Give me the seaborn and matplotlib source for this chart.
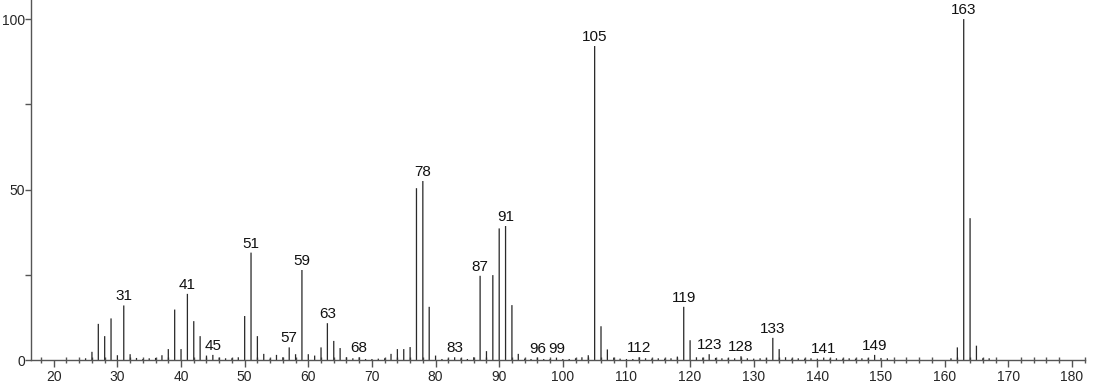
import matplotlib
matplotlib.use("Agg")
import matplotlib.pyplot as plt
import seaborn as sns
import pandas as pd
from matplotlib.ticker import MultipleLocator, FixedLocator

mz = list(range(25, 152)) + [161, 162, 163, 164, 165, 166, 167]
intensity = [
    0.5, 2.4, 10.6, 7.0, 12.2, 1.4, 16.0, 1.7, 0.6, 0.3,     # 25-34
    0.5, 0.6, 1.4, 3.2, 14.8, 3.2, 19.4, 11.4, 7.0, 1.3,     # 35-44
    1.5, 0.7, 0.5, 0.5, 0.8, 12.9, 31.5, 7.0, 1.8, 0.4,      # 45-54
    1.5, 0.8, 3.7, 1.7, 26.4, 1.7, 1.3, 3.7, 10.8, 5.6,      # 55-64
    3.5, 0.8, 0.5, 0.8, 0.3, 0.3, 0.4, 0.5, 1.8, 3.2,        # 65-74
    3.2, 3.8, 50.4, 52.5, 15.6, 1.3, 0.3, 0.4, 0.8, 0.5,     # 75-84
    0.3, 0.8, 24.7, 2.6, 24.9, 38.6, 39.3, 16.1, 1.8, 0.4,   # 85-94
    0.3, 0.7, 0.3, 0.3, 0.7, 0.3, 0.3, 0.5, 0.8, 1.4,        # 95-104
    92.1, 9.9, 3.1, 0.7, 0.4, 0.3, 0.3, 0.8, 0.5, 0.4,       # 105-114
    0.5, 0.4, 0.5, 1.0, 15.6, 5.8, 0.8, 0.7, 1.7, 0.6,       # 115-124
    0.5, 0.5, 0.5, 1.1, 0.5, 0.4, 0.5, 0.5, 6.5, 3.2,        # 125-134
    0.8, 0.4, 0.5, 0.4, 0.5, 0.4, 0.7, 0.4, 0.5, 0.4,        # 135-144
    0.5, 0.4, 0.5, 0.5, 1.5, 0.6, 0.5,                       # 145-151
    0.5, 3.7, 100.0, 41.6, 4.2, 0.5, 0.5,                    # 161-167
]
labeled_mz = [31, 41, 45, 51, 57, 59, 63, 68, 78, 83, 87, 91, 96, 99,
              105, 112, 119, 123, 128, 133, 141, 149, 163]

x_ticks = [20, 30, 40, 50, 60, 70, 80, 90, 100, 110, 120, 130, 140, 150, 160, 170, 180]
y_ticks = [0, 50, 100]

df = pd.DataFrame({"mz": mz, "intensity": intensity})

sns.set_style("white")
plt.rcParams["font.family"] = ["Liberation Sans", "DejaVu Sans"]

fig = plt.figure(figsize=(10.94, 3.84), dpi=100)
ax = fig.add_axes([0.0285, 0.0625, 0.9635, 0.9375])

sns.barplot(data=df, x="mz", y="intensity", native_scale=True, width=0.2,
            color="#2a2a2a", saturation=1, linewidth=0, ax=ax)
for p in ax.patches:
    p.set_snap(False)

lookup = dict(zip(mz, intensity))
for m in labeled_mz:
    ax.annotate(str(m), (m, lookup[m]), xytext=(0, 1.5), textcoords="offset points",
                ha="center", va="bottom", fontsize=11, color="#111111")

ax.set_xlim(16.45, 182.1)
ax.set_ylim(0, 105.6)
ax.xaxis.set_major_locator(FixedLocator(x_ticks))
ax.xaxis.set_minor_locator(MultipleLocator(2))
ax.yaxis.set_major_locator(FixedLocator(y_ticks))
ax.yaxis.set_minor_locator(FixedLocator([25, 75]))
ax.set_xlabel("")
ax.set_ylabel("")

for s in ["top", "right"]:
    ax.spines[s].set_visible(False)
for s in ["left", "bottom"]:
    ax.spines[s].set_color("#555555")
    ax.spines[s].set_linewidth(1.0)

ax.tick_params(axis="x", which="major", direction="out", length=5, width=1,
               color="#555555", labelsize=10, pad=2, bottom=True)
ax.tick_params(axis="x", which="minor", direction="inout", length=5, width=1,
               color="#555555", bottom=True)
ax.tick_params(axis="y", which="major", direction="out", length=4, width=1,
               color="#555555", labelsize=10, pad=0.5, left=True)
ax.tick_params(axis="y", which="minor", direction="out", length=4, width=1,
               color="#555555", left=True)
ax.grid(False)

fig.savefig("out.png", dpi=100)
